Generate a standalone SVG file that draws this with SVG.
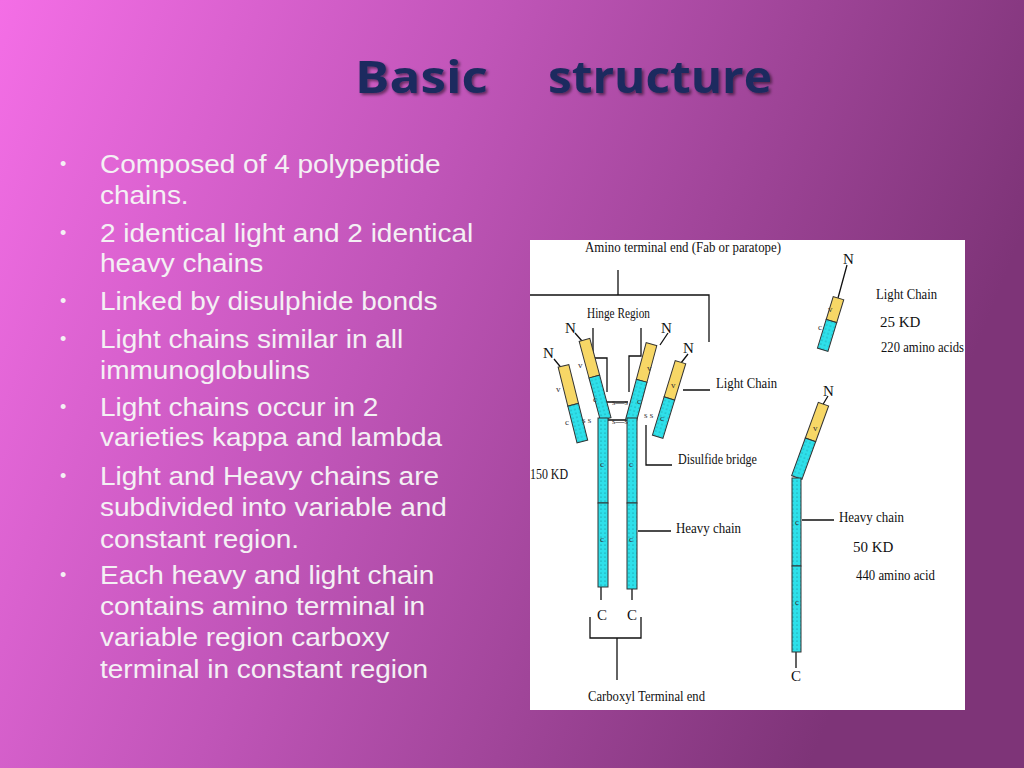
<svg xmlns="http://www.w3.org/2000/svg" width="1024" height="768" viewBox="0 0 1024 768">
<defs>
<linearGradient id="bg" x1="0" y1="0" x2="1" y2="0.3">
<stop offset="0" stop-color="#f46ee6"/><stop offset="0.45" stop-color="#c055b8"/><stop offset="1" stop-color="#7e3478"/>
</linearGradient>
<pattern id="dots" width="4" height="4" patternUnits="userSpaceOnUse">
<rect width="4" height="4" fill="#2ee0ea"/><circle cx="1" cy="1" r="0.6" fill="#168088"/>
</pattern>
<filter id="sh"><feDropShadow dx="2" dy="2" stdDeviation="1.5" flood-color="#000" flood-opacity="0.5"/></filter>
</defs>
<style>
.b{font-family:"Liberation Sans",Arial,sans-serif;font-size:28px;fill:#f4f0f4}
.d{font-family:"Liberation Sans",Arial,sans-serif;font-size:18px;fill:#f4f0f4}
.s{font-family:"Liberation Serif","Times New Roman",serif;font-size:15px;fill:#111}
.t{font-family:"Liberation Serif",serif;font-size:9px;fill:#333}
.ln{stroke:#111;stroke-width:1.3;fill:none}
.cy{fill:url(#dots);stroke:#333;stroke-width:1}
.ye{fill:#f7d766;stroke:#333;stroke-width:1}
</style>
<rect width="1024" height="768" fill="url(#bg)"/>
<g font-family="'Open Sans','DejaVu Sans',sans-serif" font-weight="bold" font-size="44" fill="#1c2a5e" filter="url(#sh)">
<text x="355" y="93" textLength="133" lengthAdjust="spacingAndGlyphs">Basic</text>
<text x="548" y="93" textLength="224" lengthAdjust="spacingAndGlyphs">structure</text>
</g>
<g class="d">
<text x="60" y="170">•</text><text x="60" y="239">•</text><text x="60" y="307">•</text><text x="60" y="345">•</text><text x="60" y="413">•</text><text x="60" y="482">•</text><text x="60" y="581">•</text>
</g>
<g class="b" transform="translate(100,0) scale(1,0.93) translate(-100,0)">
<g transform="translate(0,12)">
<text x="100" y="174">Composed of 4 polypeptide</text><text x="100" y="207">chains.</text>
<text x="100" y="248">2 identical light and 2 identical</text><text x="100" y="281">heavy chains</text>
<text x="100" y="321">Linked by disulphide bonds</text>
<text x="100" y="362">Light chains similar in all</text><text x="100" y="395">immunoglobulins</text>
<text x="100" y="435">Light chains occur in 2</text><text x="100" y="468">varieties kappa and lambda</text>
<text x="100" y="510">Light and Heavy chains are</text><text x="100" y="543">subdivided into variable and</text><text x="100" y="577">constant region.</text>
<text x="100" y="616">Each heavy and light chain</text><text x="100" y="649">contains amino terminal in</text><text x="100" y="683">variable region carboxy</text><text x="100" y="717">terminal in constant region</text>
</g></g>
<rect x="530" y="240" width="435" height="470" fill="#fff"/>
<g id="connectors">
<path class="ln" d="M618,270 V295 M530,295 H709 V342"/>
<path class="ln" d="M593,328 V358 H607 V392 M641,328 V356 H629 V392"/>
<path class="ln" d="M683,390 H710 M646,425 V465 H672 M638,531 H671"/>
<path class="ln" d="M601,587 V600 M632,589 V600 M590,617 V638 H641 V617 M617,638 V680"/>
<path class="ln" d="M554,359 L563,370 M575,333 L582,341 M668,333 L660,345 M688,354 L681,363"/>
<path class="ln" d="M847,265 L838,298 M828,396 L822,406 M802,520 H834 M796,652 V668"/>
<path class="ln" d="M605,402 H628 M605,420 H628" stroke-width="0.8"/>
</g>
<g id="leftLight" transform="translate(563,366) rotate(-14)"><rect class="ye" x="-5" y="0" width="11" height="40"/><rect class="cy" x="-5" y="40" width="11" height="38"/></g>
<g id="leftHeavyArm" transform="translate(584,340) rotate(-15)"><rect class="ye" x="-5" y="0" width="11" height="38"/><rect class="cy" x="-5" y="38" width="11" height="44"/></g>
<g id="rightHeavyArm" transform="translate(651,344) rotate(15)"><rect class="ye" x="-5" y="0" width="11" height="38"/><rect class="cy" x="-5" y="38" width="11" height="42"/></g>
<g id="rightLight" transform="translate(680,362) rotate(17)"><rect class="ye" x="-5" y="0" width="11" height="38"/><rect class="cy" x="-5" y="38" width="11" height="40"/></g>
<g id="stems"><rect class="cy" x="598" y="418" width="10" height="85"/><rect class="cy" x="598" y="503" width="10" height="84"/>
<rect class="cy" x="627" y="418" width="10" height="85"/><rect class="cy" x="627" y="503" width="10" height="86"/></g>
<g id="isoLight" transform="translate(838,298) rotate(17)"><rect class="ye" x="-5" y="0" width="11" height="24"/><rect class="cy" x="-5" y="24" width="11" height="30"/></g>
<g id="isoHeavy"><g transform="translate(823,404) rotate(20)"><rect class="ye" x="-5" y="0" width="11" height="38"/><rect class="cy" x="-5" y="38" width="11" height="40"/></g>
<rect class="cy" x="792" y="478" width="9" height="88"/><rect class="cy" x="792" y="566" width="9" height="86"/></g>
<g class="t"><text x="556" y="392">v</text><text x="565" y="425">c</text><text x="578" y="368">v</text><text x="593" y="402">c</text>
<text x="647" y="371">v</text><text x="637" y="404">c</text><text x="671" y="388">v</text><text x="660" y="421">c</text>
<text x="600" y="467">c</text><text x="629" y="467">c</text><text x="600" y="542">c</text><text x="629" y="542">c</text>
<text x="828" y="312">v</text><text x="818" y="330">c</text><text x="813" y="431">v</text><text x="795" y="525">c</text><text x="795" y="605">c</text>
<text x="612" y="405">s—s</text><text x="612" y="424">s—s</text><text x="582" y="423">s s</text><text x="644" y="418">s s</text></g>
<g class="s">
<text x="585" y="252" textLength="196" lengthAdjust="spacingAndGlyphs">Amino terminal end (Fab or paratope)</text>
<text x="587" y="318" textLength="63" lengthAdjust="spacingAndGlyphs">Hinge Region</text>
<text x="716" y="388" textLength="61" lengthAdjust="spacingAndGlyphs">Light Chain</text>
<text x="678" y="464" textLength="79" lengthAdjust="spacingAndGlyphs">Disulfide bridge</text>
<text x="530" y="479" textLength="38" lengthAdjust="spacingAndGlyphs">150 KD</text>
<text x="676" y="533" textLength="65" lengthAdjust="spacingAndGlyphs">Heavy chain</text>
<text x="597" y="620">C</text><text x="627" y="620">C</text>
<text x="588" y="701" textLength="117" lengthAdjust="spacingAndGlyphs">Carboxyl Terminal end</text>
<text x="543" y="358">N</text><text x="565" y="333">N</text><text x="661" y="333">N</text><text x="683" y="353">N</text>
<text x="843" y="264">N</text><text x="876" y="299" textLength="61" lengthAdjust="spacingAndGlyphs">Light Chain</text>
<text x="880" y="327">25 KD</text><text x="881" y="352" textLength="83" lengthAdjust="spacingAndGlyphs">220 amino acids</text>
<text x="823" y="396">N</text><text x="839" y="522" textLength="65" lengthAdjust="spacingAndGlyphs">Heavy chain</text>
<text x="853" y="552">50 KD</text><text x="856" y="580" textLength="79" lengthAdjust="spacingAndGlyphs">440 amino acid</text>
<text x="791" y="681">C</text>
</g>
</svg>
